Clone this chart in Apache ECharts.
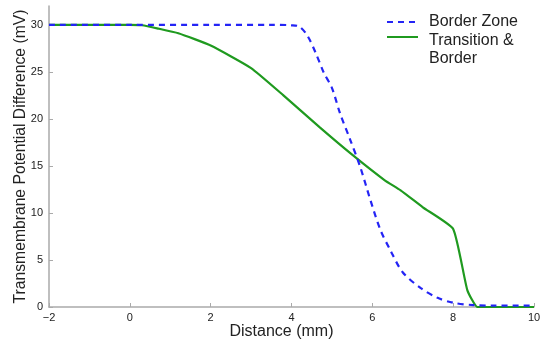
<!DOCTYPE html>
<html><head><meta charset="utf-8">
<script src="https://cdn.jsdelivr.net/npm/echarts@6/dist/echarts.min.js"></script>
<style>html,body{margin:0;padding:0;background:#fff}#c{width:542px;height:345px}</style>
</head><body><div id="c"></div>
<script>
const xTicks = [-2, 0, 2, 4, 6, 8, 10];
const yTicks = [0, 5, 10, 15, 20, 25, 30];
const borderX = [-2, 0, 2, 3.5, 4.0, 4.2, 4.4, 4.6, 4.8, 5.0, 5.2, 5.45, 5.7, 5.95, 6.2, 6.45, 6.75, 7.2, 7.6, 8.0, 8.5, 9.0, 10];
const borderY = [30, 30, 30, 30, 29.95, 29.8, 28.8, 27.0, 24.9, 23.3, 20.6, 17.8, 14.9, 11.4, 8.2, 6.0, 3.7, 2.0, 1.0, 0.45, 0.2, 0.15, 0.15];
const transX = [-2, 0, 0.3, 0.7, 1.2, 2.0, 3.0, 3.8, 4.7, 5.5, 6.3, 6.7, 7.25, 8.0, 8.35, 8.6, 9.0, 10];
const transY = [30, 30, 29.95, 29.6, 29.1, 27.8, 25.4, 22.5, 19.1, 16.2, 13.5, 12.4, 10.6, 8.3, 1.8, 0, 0, 0];
const names = ['Border Zone', 'Transition &\nBorder'];
const pairs = (xs, ys) => xs.map((x, i) => [x, ys[i]]);
const chart = echarts.init(document.getElementById('c'));
const font = 'Liberation Sans, Arial, sans-serif';
chart.setOption({
  animation: false,
  grid: {left: 49, right: 8, top: 6, bottom: 38, outerBoundsMode: 'none', containLabel: false},
  legend: {
    top: 1, left: 381, orient: 'vertical', itemWidth: 31, itemHeight: 14, itemGap: -25,
    itemStyle: {opacity: 0},
    textStyle: {fontFamily: font, fontSize: 16, color: '#222', lineHeight: 18, padding: [0, 0, 0, 6],
      rich: {
        e: {fontFamily: font, fontSize: 16, lineHeight: 26},
        t: {fontFamily: font, fontSize: 16, color: '#222', lineHeight: 18}
      }},
    formatter: n => n === names[1] ? '{e| }\n' + n.split('\n').map(s => '{t|' + s + '}').join('\n') : n,
    data: names
  },
  xAxis: {
    type: 'value', min: -2, max: 10, interval: 2,
    name: 'Distance (mm)', nameLocation: 'middle', nameGap: 17, nameMoveOverlap: false,
    nameTextStyle: {fontFamily: font, fontSize: 16, color: '#222', padding: [0, 20, 0, 0]},
    axisLine: {lineStyle: {color: '#aaa', width: 1.5}},
    axisTick: {inside: true, length: 4, lineStyle: {color: '#aaa'}},
    axisLabel: {fontFamily: font, fontSize: 11, color: '#222', margin: 5,
      formatter: v => xTicks.includes(v) ? String(v).replace('-', '\u2212') : ''},
    splitLine: {show: false}
  },
  yAxis: {
    type: 'value', min: 0, max: 32, interval: 5,
    name: 'Transmembrane Potential Difference (mV)', nameLocation: 'middle', nameGap: 20, nameMoveOverlap: false,
    nameTextStyle: {fontFamily: font, fontSize: 15.7, color: '#222'},
    axisLine: {show: true, onZero: false, lineStyle: {color: '#aaa', width: 1.5}},
    axisTick: {show: true, inside: true, length: 4, lineStyle: {color: '#aaa'}},
    axisLabel: {fontFamily: font, fontSize: 11, color: '#222', margin: 6,
      formatter: v => yTicks.includes(v) ? String(v) : '', showMaxLabel: false},
    splitLine: {show: false}
  },
  series: [
    {name: names[0], type: 'line', data: pairs(borderX, borderY), smooth: 0.3, symbol: 'none',
     lineStyle: {color: '#2424f5', width: 2.2, type: [6, 5]}, itemStyle: {color: '#2424f5'}, z: 3},
    {name: names[1], type: 'line', data: pairs(transX, transY), smooth: 0.15, symbol: 'none',
     lineStyle: {color: '#1f9a1f', width: 2.2}, itemStyle: {color: '#1f9a1f'}, z: 2}
  ]
});
</script></body></html>
